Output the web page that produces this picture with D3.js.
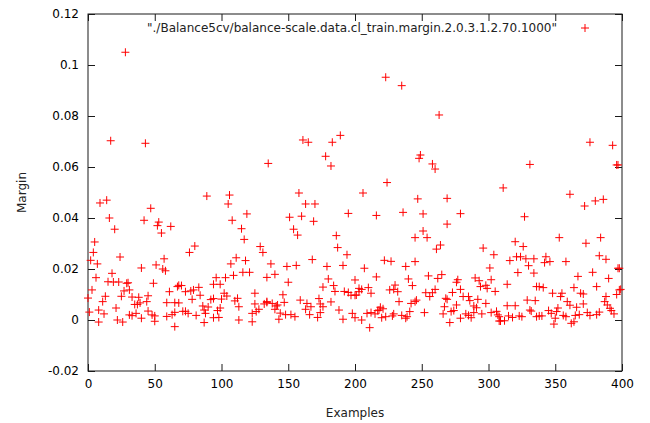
<!DOCTYPE html>
<html lang="en">
    <head>
        <meta charset="utf-8">
        <title>Margin</title>
        <script type="text/javascript" src="https://cdn.jsdelivr.net/npm/d3@7"></script>
        <style type="text/css">
            body { margin: 0; background: #fff; overflow: hidden; }
            svg { display: block; }
            text { font-family: "DejaVu Sans", sans-serif; font-size: 12px; }
        </style>
    </head>
    <body>
        <script type="text/javascript">
        // points, [example, margin], one array per strip of x
        var strip1 = [[0,.0086],[1,.0031],[2,.0234],[3,.0118],[4,.0265],[5,.0306],[6,.0166],[7,.022],[8,.0039],[8,-.0008],[9,.0459],[11,.0072],[12,.0024],[13,.0093],[14,.047],[15,.015],[16,.040],[17,.0703],[18,.0183],[19,.0149],[20,.0356],[21,.0047],[22,0],[23,.0149],[24,.0247],[25,.0093],[26,-.0008],[27,.0114],[28,.105],[29,.0144],[30,.0146],[31,.0118],[31,.002],[33,.009],[33,.0017],[35,.0061],[36,.0026],[37,.0061],[38,.0089],[39,.0067],[40,.0204],[40,.0007],[42,.0391],[43,.0693],[44,.0072],[45,.0095],[45,.0035],[47,.0438],[48,.002],[49,.0144],[50,.0016],[50,-.0005],[51,.0216],[52,.037],[53,.0384],[55,.0341],[56,.020],[57,.024],[58,.0193],[59,.0068],[59,.0014],[61,.0111],[62,.0367],[63,.0021],[65,.0068],[65,.003],[65,-.0026],[67,.0131]];
        var strip2 = [[68,.0136],[70,.0135],[68,.0067],[71,.0034],[73,.0111],[73,.0034],[75,.0026],[76,.0265],[77,.0114],[78,.0081],[79,.0118],[80,.029],[81,.0018],[83,.0128],[84,.0097],[86,.0055],[87,.0039],[87,-.001],[88,.0026],[89,.0486],[90,.0051],[92,.008],[94,.0084],[94,.014],[94,.0009],[96,.0166],[97,.0037],[98,.001],[99,.014],[99,.0047],[100,.0082],[102,.0105],[103,.0166],[104,.0094],[105,.0455],[106,.0490],[107,.022],[108,.0391],[109,.0175],[110,.0075],[111,.0244],[112,.0085],[113,.0052],[113,0],[115,.0358],[116,.0187],[117,.0316],[118,.0233],[119,.0416],[121,.0187],[123,.0026],[123,-.0007],[125,.0105],[125,.0063],[126,.0033],[128,.0042],[129,.0288],[131,.0265],[132,.0063],[134,.0167],[134,.0072]];
        var strip3 = [[135,.0614],[134,.0069],[137,.022],[138,.0065],[140,.0179],[140,.0042],[141,.0055],[142,.0059],[143,.0003],[144,.0027],[146,.0099],[147,.0069],[148,.0021],[149,.021],[150,.0148],[151,.0403],[152,.0021],[154,.0356],[155,.0013],[156,.0214],[157,.0333],[158,.0498],[159,.0078],[160,.0407],[161,.0706],[163,.0455],[163,.0042],[164,.0065],[165,.0697],[166,.0021],[167,.0052],[168,.0237],[169,.0387],[170,.0455],[172,.001],[173,.0084],[174,.0063],[174,.0029],[176,.0129],[176,.0052],[178,.0642],[179,.021],[180,.0161],[182,.0071],[182,.0604],[183,.0697],[184,.0135],[185,.0112],[186,.0331],[187,.0284],[188,.0039],[189,.0724],[191,.0214],[191,.0003],[192,.0112],[194,.0256],[195,.0108],[195,.0418],[197,.0097],[198,.0026],[200,.0157],[200,.0009],[200,.0097]];
        var strip4 = [[201,.0098],[203,.0111],[203,.0124],[205,.012],[205,0],[206,.0498],[207,.0203],[209,.0026],[210,.0127],[211,-.003],[212,.0105],[212,.0029],[215,.0024],[216,.041],[216,.0169],[217,.0037],[218,.0039],[219,.005],[220,.0009],[221,.0044],[222,.0234],[223,.0952],[223,.0013],[224,.0539],[226,.0118],[227,.023],[228,.0016],[229,.012],[229,.0024],[230,.0137],[232,.0111],[233,.0072],[235,.0919],[235,.0018],[236,.0422],[238,.021],[238,.0007],[239,.0013],[240,.0161],[241,.0033],[242,.0065],[243,.0135],[245,.0323],[245,.0229],[245,.0072],[246,.0078],[247,.0475],[248,.0634],[249,.0647],[251,.0349],[251,.0416],[252,.0029],[253,.0107],[254,.0323],[255,.0173],[256,.0092],[258,.0107],[258,.0612],[260,.012],[260,.0592],[261,.0278],[262,.0163],[263,.0804],[264,.0294],[265,.0178],[266,.0024],[267,.0052],[268,.0085],[269,.0477],[269,.0376]];
        var strip5 = [[269,.0081],[271,-.001],[272,.0033],[273,.0108],[274,.0037],[276,.0059],[276,.0148],[277,.0158],[279,.012],[279,.0007],[279,.0417],[281,.0092],[283,.0024],[285,.0092],[285,.0018],[286,.0076],[287,.0009],[289,.0029],[289,.0055],[290,.0165],[291,.0048],[292,.0081],[293,.0154],[294,.0131],[295,.0024],[296,.0282],[298,.0136],[298,.0065],[299,.0124],[301,.0204],[302,.0158],[302,.0029],[304,.0256],[305,.0112],[306,.0034],[307,.002],[308,.0013],[308,-.0004],[309,-.0004],[311,.0518],[312,-.0003],[314,.014],[314,.0056],[315,.0016],[316,.0233],[318,.001],[320,.0307],[320,.0056],[321,.0248],[322,.0186],[323,.0016],[324,.0248],[325,.0013],[326,.0288],[327,.0405],[328,.024],[329,.0078],[330,.0213],[331,.061],[331,.0039],[332,.0035],[334,.024],[334,.0184],[335,.0076],[336,.0131],[336,.0013]];
        var strip6 = [[338,.0131],[338,.0016],[340,.0016],[341,.0127],[342,.0225],[343,.0248],[345,.0037],[346,.0229],[347,.0026],[348,.0105],[349,-.0016],[350,.0007],[351,.0033],[352,.0047],[353,.0323],[354,.0092],[355,.0105],[356,.0018],[358,.0013],[358,.0229],[359,.0072],[361,.0058],[361,.0493],[362,-.0013],[364,-.0007],[364,.0127],[365,.0018],[366,.005],[367,.0171],[368,.0021],[369,.0105],[371,.0102],[371,.0063],[372,.0447],[373,.0301],[374,.0029],[376,.0697],[376,.0018],[378,.0187],[380,.0467],[381,.0131],[381,.0021],[383,.0031],[383,.0252],[384,.0323],[386,.0473],[387,.0072],[388,.0092],[388,.0238],[389,.0059],[390,.0163],[391,.0046],[392,.0037],[393,.0685],[394,.0024],[396,.0608],[396,.01],[397,.0203],[397,.0608],[398,.0203],[398,.0118],[399,.012]];

        var xTicks = [0, 50, 100, 150, 200, 250, 300, 350, 400];
        var yTicks = [-0.02, 0, 0.02, 0.04, 0.06, 0.08, 0.1, 0.12];
        var seriesName = "\"./Balance5cv/balance-scale.data.cl_train.margin.2.0.3.1.2.70.1000\"";

        var points = strip1.concat(strip2, strip3, strip4, strip5, strip6);

        var svgWidth = 650;
        var svgHeight = 423;
        // plot frame (window.top is read-only, so no plain "top" here)
        var padL = 88, padR = 622, padT = 14, padB = 371;
        var frameColor = "#1a1a1a";

        var svg = d3.select("body")
            .append("svg")
            .attr("width", svgWidth)
            .attr("height", svgHeight);

        var x = d3.scaleLinear().domain([0, 400]).range([padL, padR]);
        var y = d3.scaleLinear().domain([-0.02, 0.12]).range([padB, padT]);

        function fmtY(d) { return String(+d.toFixed(2)); }

        // axes with inward ticks, mirrored on top and right like gnuplot
        var gx = svg.append("g")
            .attr("transform", "translate(0," + padB + ")")
            .call(d3.axisBottom(x).tickValues(xTicks).tickSizeInner(-7).tickSizeOuter(0).tickPadding(8));
        var gy = svg.append("g")
            .attr("transform", "translate(" + padL + ",0)")
            .call(d3.axisLeft(y).tickValues(yTicks).tickFormat(fmtY).tickSizeInner(-7).tickSizeOuter(0).tickPadding(9));
        var gt = svg.append("g")
            .attr("transform", "translate(0," + padT + ")")
            .call(d3.axisTop(x).tickValues(xTicks).tickSizeInner(-7).tickSizeOuter(0).tickFormat(""));
        var gr = svg.append("g")
            .attr("transform", "translate(" + padR + ",0)")
            .call(d3.axisRight(y).tickValues(yTicks).tickSizeInner(-7).tickSizeOuter(0).tickFormat(""));

        [gx, gy, gt, gr].forEach(function(g) {
            g.select(".domain").remove();
            g.selectAll(".tick line").attr("stroke", frameColor);
            g.selectAll("text")
                .attr("font-family", "DejaVu Sans, sans-serif")
                .attr("font-size", "12px")
                .attr("fill", "#000");
        });

        svg.append("rect")
            .attr("x", padL)
            .attr("y", padT)
            .attr("width", padR - padL)
            .attr("height", padB - padT)
            .attr("fill", "none")
            .attr("stroke", frameColor)
            .attr("stroke-width", 1);

        var plus = "M-4,0H4M0,-4V4";

        svg.append("g")
            .attr("class", "marks")
            .selectAll("path")
            .data(points)
            .enter()
            .append("path")
            .attr("d", plus)
            .attr("transform", function(d) {
                return "translate(" + x(d[0]) + "," + y(d[1]) + ")";
            })
            .attr("fill", "none")
            .attr("stroke", "#ff0000")
            .attr("stroke-width", 1);

        // key
        svg.append("text")
            .attr("x", 557)
            .attr("y", 32)
            .attr("text-anchor", "end")
            .attr("fill", "#222")
            .text(seriesName);
        svg.append("path")
            .attr("d", plus)
            .attr("transform", "translate(585,28)")
            .attr("stroke", "#ff0000")
            .attr("stroke-width", 1);

        // axis titles
        svg.append("text")
            .attr("x", (padL + padR) / 2)
            .attr("y", 417)
            .attr("text-anchor", "middle")
            .attr("fill", "#222")
            .text("Examples");
        svg.append("text")
            .attr("transform", "translate(26," + ((padT + padB) / 2) + ") rotate(-90)")
            .attr("text-anchor", "middle")
            .attr("fill", "#222")
            .text("Margin");
        </script>
    </body>
</html>
